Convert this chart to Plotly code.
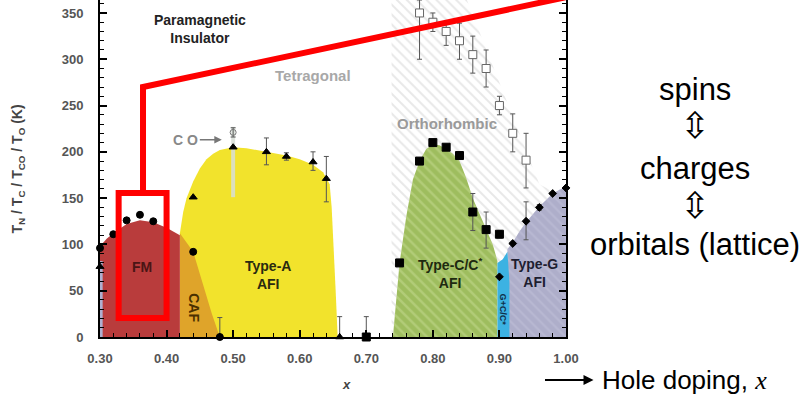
import plotly.graph_objects as go

# ---------------- phase boundaries (x = hole doping, T in K) ----------------
fm_x = [0.30, 0.30, 0.31, 0.32, 0.34, 0.36, 0.38, 0.40, 0.42, 0.42]
fm_y = [0, 98, 106, 112, 122, 126, 124, 118, 110, 0]

caf_x = [0.42, 0.42, 0.44, 0.455, 0.468, 0.48]
caf_y = [0, 112, 92, 55, 25, 0]

typeA_x = [0.42, 0.42, 0.425, 0.43, 0.44, 0.45, 0.46, 0.47, 0.48, 0.50, 0.52, 0.55,
           0.58, 0.60, 0.62, 0.635, 0.645, 0.648, 0.651, 0.654, 0.657]
typeA_y = [0, 112, 135, 150, 168, 182, 192, 198, 202, 205, 204, 200,
           196, 192, 186, 178, 165, 140, 100, 50, 0]

ortho_x = [0.738, 0.738, 0.85, 0.89, 0.93, 0.96, 1.00, 1.00]
ortho_y = [0, 366, 366, 292, 220, 165, 150, 0]

typeC_x = [0.74, 0.745, 0.75, 0.76, 0.77, 0.78, 0.79, 0.80, 0.81, 0.82, 0.83, 0.84,
           0.85, 0.86, 0.87, 0.88, 0.89, 0.897, 0.897]
typeC_y = [0, 40, 80, 130, 170, 190, 203, 208, 207, 203, 198, 190,
           172, 150, 133, 117, 100, 82, 0]

typeG_x = [0.912, 0.912, 0.92, 0.93, 0.94, 0.95, 0.96, 0.97, 0.98, 0.99, 1.00, 1.00]
typeG_y = [0, 95, 102, 114, 124, 133, 141, 148, 155, 159, 162, 0]

mixed_x = [0.897, 0.897, 0.905, 0.912, 0.915, 0.915]
mixed_y = [0, 80, 84, 92, 60, 0]

afm_x = [0.300, 0.300, 0.304, 0.304]
afm_y = [0, 82, 82, 0]

co_x = [0.497, 0.497, 0.503, 0.503]
co_y = [151, 227, 227, 151]

# ---------------- measured transition temperatures ----------------
fm_pts_x = [0.30, 0.32, 0.34, 0.36, 0.38, 0.44]
fm_pts_y = [96, 111, 126, 132, 125, 92]

caf_end_x = [0.48]
caf_end_y = [0]
caf_end_err = [21]

tri_x = [0.30, 0.44, 0.50, 0.55, 0.58, 0.62, 0.64, 0.66]
tri_y = [76, 151, 205, 200, 195, 189, 171, 0]
tri_err_hi = [0, 0, 0, 15, 4, 11, 24, 22]
tri_err_lo = [0, 0, 0, 14, 4, 9, 25, 0]

co_pt_x = [0.50]
co_pt_y = [221]
co_pt_err = [5]

open_sq_x = [0.78, 0.80, 0.82, 0.84, 0.86, 0.88, 0.90, 0.92, 0.94]
open_sq_y = [350, 340, 330, 320, 305, 290, 250, 220, 191]
open_sq_hi = [14, 10, 9, 19, 20, 20, 10, 21, 29]
open_sq_lo = [50, 10, 15, 20, 20, 20, 10, 20, 30]

sq_x = [0.70, 0.75, 0.78, 0.80, 0.82, 0.84, 0.86, 0.88, 0.90]
sq_y = [0, 80, 190, 210, 205, 196, 135, 116, 111]
sq_hi = [22, 0, 0, 0, 0, 0, 20, 19, 4]
sq_lo = [0, 0, 0, 0, 0, 0, 20, 20, 4]

dia_x = [0.90, 0.92, 0.94, 0.96, 0.98, 1.00]
dia_y = [65, 101, 125, 140, 155, 161]
dia_hi = [0, 0, 21, 3, 0, 0]
dia_lo = [0, 0, 20, 3, 0, 0]

x_ticks = [0.30, 0.40, 0.50, 0.60, 0.70, 0.80, 0.90, 1.00]
y_ticks = [0, 50, 100, 150, 200, 250, 300, 350]

SANS = "Liberation Sans, Arial, sans-serif"

fig = go.Figure()


def region(xs, ys, color, pattern=None):
    fig.add_trace(go.Scatter(
        x=xs, y=ys, mode="lines", fill="toself", fillcolor=color,
        line=dict(width=0), fillpattern=pattern, hoverinfo="skip",
        showlegend=False))


# hatched orthorhombic background
region(ortho_x, ortho_y, "white",
       dict(shape="\\", fgcolor="#d2d2d2", bgcolor="white", size=7, solidity=0.28))
region(typeA_x, typeA_y, "#f2e32c")
region(caf_x, caf_y, "#dfa42a")
region(fm_x, fm_y, "#b93c3c")
region(afm_x, afm_y, "#aeb0d0")
region(typeC_x, typeC_y, "#a6c468",
       dict(shape="\\", fgcolor="#c6dc92", bgcolor="#9ebd5e", size=7, solidity=0.35))
region(typeG_x, typeG_y, "#b0b0cc",
       dict(shape="\\", fgcolor="#c2c2da", bgcolor="#aeaeca", size=7, solidity=0.3))
region(mixed_x, mixed_y, "#3cb2e2")
region(co_x, co_y, "rgba(215,222,215,0.85)")

ERR = dict(color="#555555", thickness=1, width=2.5)


def points(xs, ys, symbol, size, hi=None, lo=None, color="black", line_color="black"):
    kw = {}
    if hi is not None:
        kw["error_y"] = dict(type="data", array=hi, arrayminus=lo, symmetric=False, **ERR)
    fig.add_trace(go.Scatter(
        x=xs, y=ys, mode="markers", cliponaxis=False,
        marker=dict(symbol=symbol, size=size, color=color,
                    line=dict(color=line_color, width=1)),
        hoverinfo="skip", showlegend=False, **kw))


points(fm_pts_x, fm_pts_y, "circle", 7)
points(caf_end_x, caf_end_y, "circle", 7, caf_end_err, [0])
points(tri_x, tri_y, "triangle-up", 7, tri_err_hi, tri_err_lo)
points(co_pt_x, co_pt_y, "circle-open", 6, co_pt_err, co_pt_err, color="#777")
points(open_sq_x, open_sq_y, "square", 8, open_sq_hi, open_sq_lo,
       color="white", line_color="#666")
points(sq_x, sq_y, "square", 8, sq_hi, sq_lo)
points(dia_x, dia_y, "diamond", 6, dia_hi, dia_lo)

# highlight frame around the FM dome
RED = dict(color="#ff0000", width=6)
fig.add_shape(type="rect", xref="x", yref="y", x0=0.328, x1=0.400, y0=20.5, y1=155.5,
              line=RED, layer="above")
fig.add_shape(type="path", xref="x", yref="y",
              path="M 0.3646 155.5 L 0.3646 270 L 1.0 367",
              line=RED, layer="above")


# ---------------- labels inside the diagram ----------------
def label(x, y, text, size=14, color="#1e1e1e", angle=0, **kw):
    fig.add_annotation(x=x, y=y, xref="x", yref="y", text=text, showarrow=False,
                       textangle=angle, xanchor="center", yanchor="middle",
                       font=dict(family=SANS, size=size, color=color, weight="bold"), **kw)


label(0.45, 333, "Paramagnetic<br>Insulator", size=14, color="#222")
label(0.62, 282, "Tetragonal", size=15, color="#a8a8a8")
label(0.821, 231, "Orthorhombic", size=15, color="#9a9a9a")
label(0.363, 76, "FM", size=14, color="#4a1515")
label(0.44, 32, "CAF", size=14, color="#4a3000", angle=90)
label(0.552, 67, "Type-A<br>AFI", size=14, color="#2a2a10")
label(0.8255, 69, "Type-C/C<sup>*</sup><br>AFI", size=14, color="#1e2a10")
label(0.953, 69, "Type-G<br>AFI", size=14, color="#1e1e30")
label(0.905, 30, "G+C/C*", size=9, color="#10304a", angle=90)

fig.add_annotation(x=0.287, y=22.7, xref="x", yref="y", text="AFM", showarrow=True,
                   ax=-40, ay=0, arrowhead=2, arrowsize=1, arrowwidth=1.5,
                   arrowcolor="#222",
                   font=dict(family=SANS, size=13, color="#111", weight="bold"))
fig.add_annotation(x=0.483, y=213, xref="x", yref="y", text="C O", showarrow=True,
                   ax=-36, ay=0, arrowhead=2, arrowsize=1, arrowwidth=1.5,
                   arrowcolor="#777",
                   font=dict(family=SANS, size=14, color="#888", weight="bold"))

# axis titles
fig.add_annotation(x=-0.176, y=0.50, xref="paper", yref="paper", textangle=-90,
                   xanchor="center", yanchor="middle",
                   text="T<sub>N</sub> / T<sub>C</sub> / T<sub>CO</sub> / T<sub>O</sub> (K)",
                   showarrow=False,
                   font=dict(family=SANS, size=14, color="#444", weight="bold"))
fig.add_annotation(x=0.53, y=-0.142, xref="paper", yref="paper", text="<i>x</i>",
                   xanchor="center", yanchor="middle", showarrow=False,
                   font=dict(family=SANS, size=13, color="#444", weight="bold"))


# ---------------- right-hand side text ----------------
def side(y, text, size=31, family=SANS):
    fig.add_annotation(x=1.277, y=y, xref="paper", yref="paper", text=text,
                       xanchor="center", yanchor="middle",
                       showarrow=False, font=dict(family=family, size=size, color="black"))


side(0.733, "spins")
side(0.627, "⇳", size=36, family="DejaVu Sans")
side(0.501, "charges")
side(0.390, "⇳", size=36, family="DejaVu Sans")
side(0.273, "orbitals (lattice)")

fig.add_annotation(x=1.059, y=-0.1276, xref="paper", yref="paper", text="",
                   showarrow=True, ax=-50, ay=0, arrowhead=2, arrowsize=1,
                   arrowwidth=2, arrowcolor="black")
fig.add_annotation(x=1.073, y=-0.1276, xref="paper", yref="paper",
                   xanchor="left", yanchor="middle",
                   text="Hole doping, <span style='font-family:Liberation Serif'><i>x</i></span>",
                   showarrow=False, font=dict(family=SANS, size=26, color="black"))

AX = dict(showline=True, linecolor="black", linewidth=2, ticks="inside", ticklen=7,
          tickwidth=1.5, tickcolor="black", showgrid=False, zeroline=False,
          tickfont=dict(family=SANS, size=13, color="#555", weight="bold"))

fig.update_xaxes(range=[0.30, 1.00], tickvals=x_ticks,
                 ticktext=[f"{v:.2f}" for v in x_ticks], ticklabelstandoff=8,
                 minor=dict(dtick=0.02, tick0=0.30, ticks="inside", ticklen=4,
                            tickcolor="black", tickwidth=1.2), **AX)
fig.update_yaxes(range=[0, 364], tickvals=y_ticks, ticklabelstandoff=12,
                 mirror="ticks",
                 minor=dict(dtick=10, tick0=0, ticks="inside", ticklen=4,
                            tickcolor="black", tickwidth=1.2), **AX)

fig.update_layout(width=806, height=396, margin=dict(l=100, r=240, t=0, b=59),
                  plot_bgcolor="white", paper_bgcolor="white", showlegend=False)

fig.write_html("out.html")
